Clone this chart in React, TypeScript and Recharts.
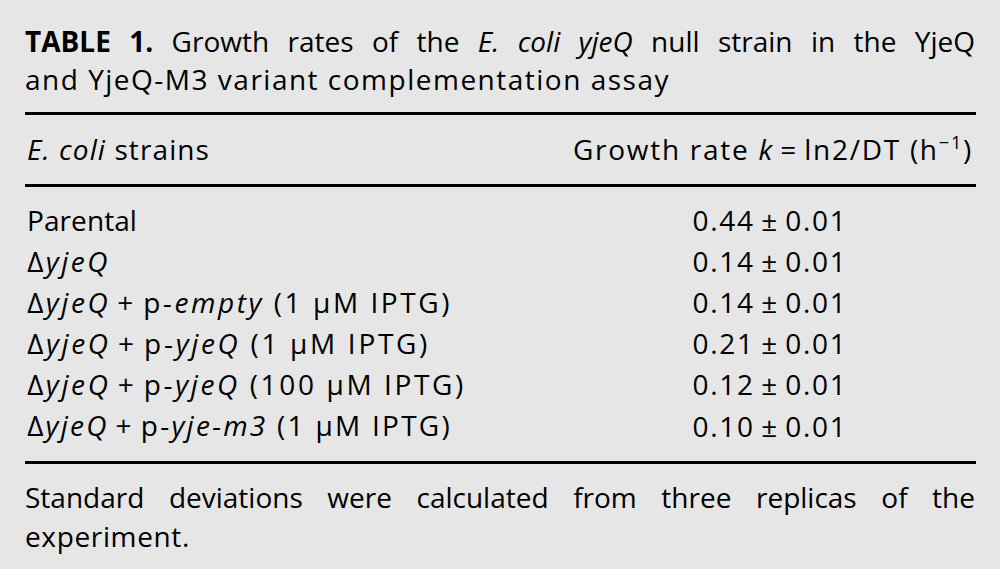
import { useLayoutEffect, useRef } from 'react';
import { BarChart, Bar, XAxis, YAxis, LabelList } from 'recharts';

// each strain label is split into [text, italic] pieces
const strainParts: [string, boolean][][] = [
  [['Parental', false]],
  [['\u2206', false], ['yjeQ', true]],
  [['\u2206', false], ['yjeQ', true], ['\u2009+\u2009p-', false], ['empty', true], [' (1 \u03bcM IPTG)', false]],
  [['\u2206', false], ['yjeQ', true], ['\u2009+\u2009p-', false], ['yjeQ', true], [' (1 \u03bcM IPTG)', false]],
  [['\u2206', false], ['yjeQ', true], ['\u2009+\u2009p-', false], ['yjeQ', true], [' (100 \u03bcM IPTG)', false]],
  [['\u2206', false], ['yjeQ', true], ['\u2009+\u2009p-', false], ['yje-m3', true], [' (1 \u03bcM IPTG)', false]],
];
const strains = strainParts.map((p) => p.map((s) => s[0]).join(''));
const growthRates = [0.44, 0.14, 0.14, 0.21, 0.12, 0.1];
const growthSd = [0.01, 0.01, 0.01, 0.01, 0.01, 0.01];

const data = strains.map((strain, i) => ({ strain, rate: growthRates[i], sd: growthSd[i] }));

// set widths of the typeset lines (the original face is wider than ours)
const strainWidths = [110, 83, 425, 403, 439, 425];
const VALUE_WIDTH = 155;

const FONT = '"Open Sans", Lato, sans-serif';
const FS = 28;
const BG = '#e6e6e6';
const LEFT = 25;
const RIGHT = 975;
const VALUE_X = 770;

function FitText({
  x,
  y,
  dy,
  width,
  anchor = 'start',
  children,
}: {
  x: number;
  y: number;
  dy?: string;
  width?: number;
  anchor?: 'start' | 'middle' | 'end';
  children: React.ReactNode;
}) {
  const ref = useRef<SVGTextElement>(null);
  useLayoutEffect(() => {
    const el = ref.current;
    if (!el || !width) return;
    el.style.letterSpacing = '0px';
    const natural = el.getComputedTextLength();
    const n = (el.textContent || '').length;
    if (n > 1) el.style.letterSpacing = `${(width - natural) / n}px`;
  });
  return (
    <text ref={ref} x={x} y={y} dy={dy} textAnchor={anchor} fontFamily={FONT} fontSize={FS} fill="#000">
      {children}
    </text>
  );
}

function JustLine({ y, children }: { y: number; children: React.ReactNode }) {
  const ref = useRef<SVGTextElement>(null);
  useLayoutEffect(() => {
    const el = ref.current;
    if (!el) return;
    el.style.wordSpacing = '0px';
    const natural = el.getComputedTextLength();
    const spaces = ((el.textContent || '').match(/ /g) || []).length;
    if (spaces) el.style.wordSpacing = `${(RIGHT - LEFT - natural) / spaces}px`;
  });
  return (
    <text ref={ref} x={LEFT} y={y} fontFamily={FONT} fontSize={FS} fill="#000">
      {children}
    </text>
  );
}

function StrainTick(props: any) {
  const { y, payload, index } = props;
  const parts = strainParts[index] ?? [[payload.value, false]];
  return (
    <FitText x={LEFT + 2} y={y} dy="0.36em" width={strainWidths[index]}>
      {parts.map(([t, it], i) => (
        <tspan key={i} fontStyle={it ? 'italic' : 'normal'}>
          {t}
        </tspan>
      ))}
    </FitText>
  );
}

function RateLabel(props: any) {
  const { y, height, index } = props;
  const cy = Number(y) + Number(height) / 2;
  return (
    <FitText x={VALUE_X} y={cy} dy="0.36em" anchor="middle" width={VALUE_WIDTH}>
      {`${growthRates[index].toFixed(2)}\u2009\u00b1\u2009${growthSd[index].toFixed(2)}`}
    </FitText>
  );
}

export default function App() {
  return (
    <div style={{ position: 'fixed', left: 0, top: 0, width: 1000, height: 569, background: BG }}>
      <BarChart
        width={1000}
        height={569}
        data={data}
        layout="vertical"
        margin={{ top: 200, bottom: 122, left: 0, right: 0 }}
      >
        <XAxis type="number" hide domain={[0, 1]} />
        <YAxis
          type="category"
          dataKey="strain"
          width={20}
          axisLine={false}
          tickLine={false}
          interval={0}
          tick={<StrainTick />}
        />
        <Bar dataKey="rate" fill="none" isAnimationActive={false}>
          <LabelList dataKey="rate" content={<RateLabel />} />
        </Bar>
      </BarChart>
      <svg width={1000} height={569} style={{ position: 'absolute', left: 0, top: 0, pointerEvents: 'none' }}>
        <JustLine y={52}>
          <tspan fontWeight="bold">TABLE 1.</tspan>
          {' Growth rates of the '}
          <tspan fontStyle="italic">E. coli yjeQ</tspan>
          {' null strain in the YjeQ'}
        </JustLine>
        <FitText x={LEFT} y={90} width={645}>
          and YjeQ-M3 variant complementation assay
        </FitText>
        <rect x={LEFT} y={112} width={RIGHT - LEFT + 1} height={3} fill="#000" />
        <FitText x={LEFT + 2} y={160} width={183}>
          <tspan fontStyle="italic">E. coli</tspan> strains
        </FitText>
        <FitText x={RIGHT - 2} y={160} anchor="end" width={400}>
          Growth rate <tspan fontStyle="italic">k</tspan>{'\u2009=\u2009ln2/DT (h'}
          <tspan dy={-11} fontSize={FS * 0.65}>
            {'\u22121'}
          </tspan>
          <tspan dy={11}>)</tspan>
        </FitText>
        <rect x={LEFT} y={184} width={RIGHT - LEFT + 1} height={3} fill="#000" />
        <rect x={LEFT} y={461} width={RIGHT - LEFT + 1} height={3} fill="#000" />
        <JustLine y={508}>Standard deviations were calculated from three replicas of the</JustLine>
        <FitText x={LEFT} y={547} width={165}>
          experiment.
        </FitText>
      </svg>
    </div>
  );
}
